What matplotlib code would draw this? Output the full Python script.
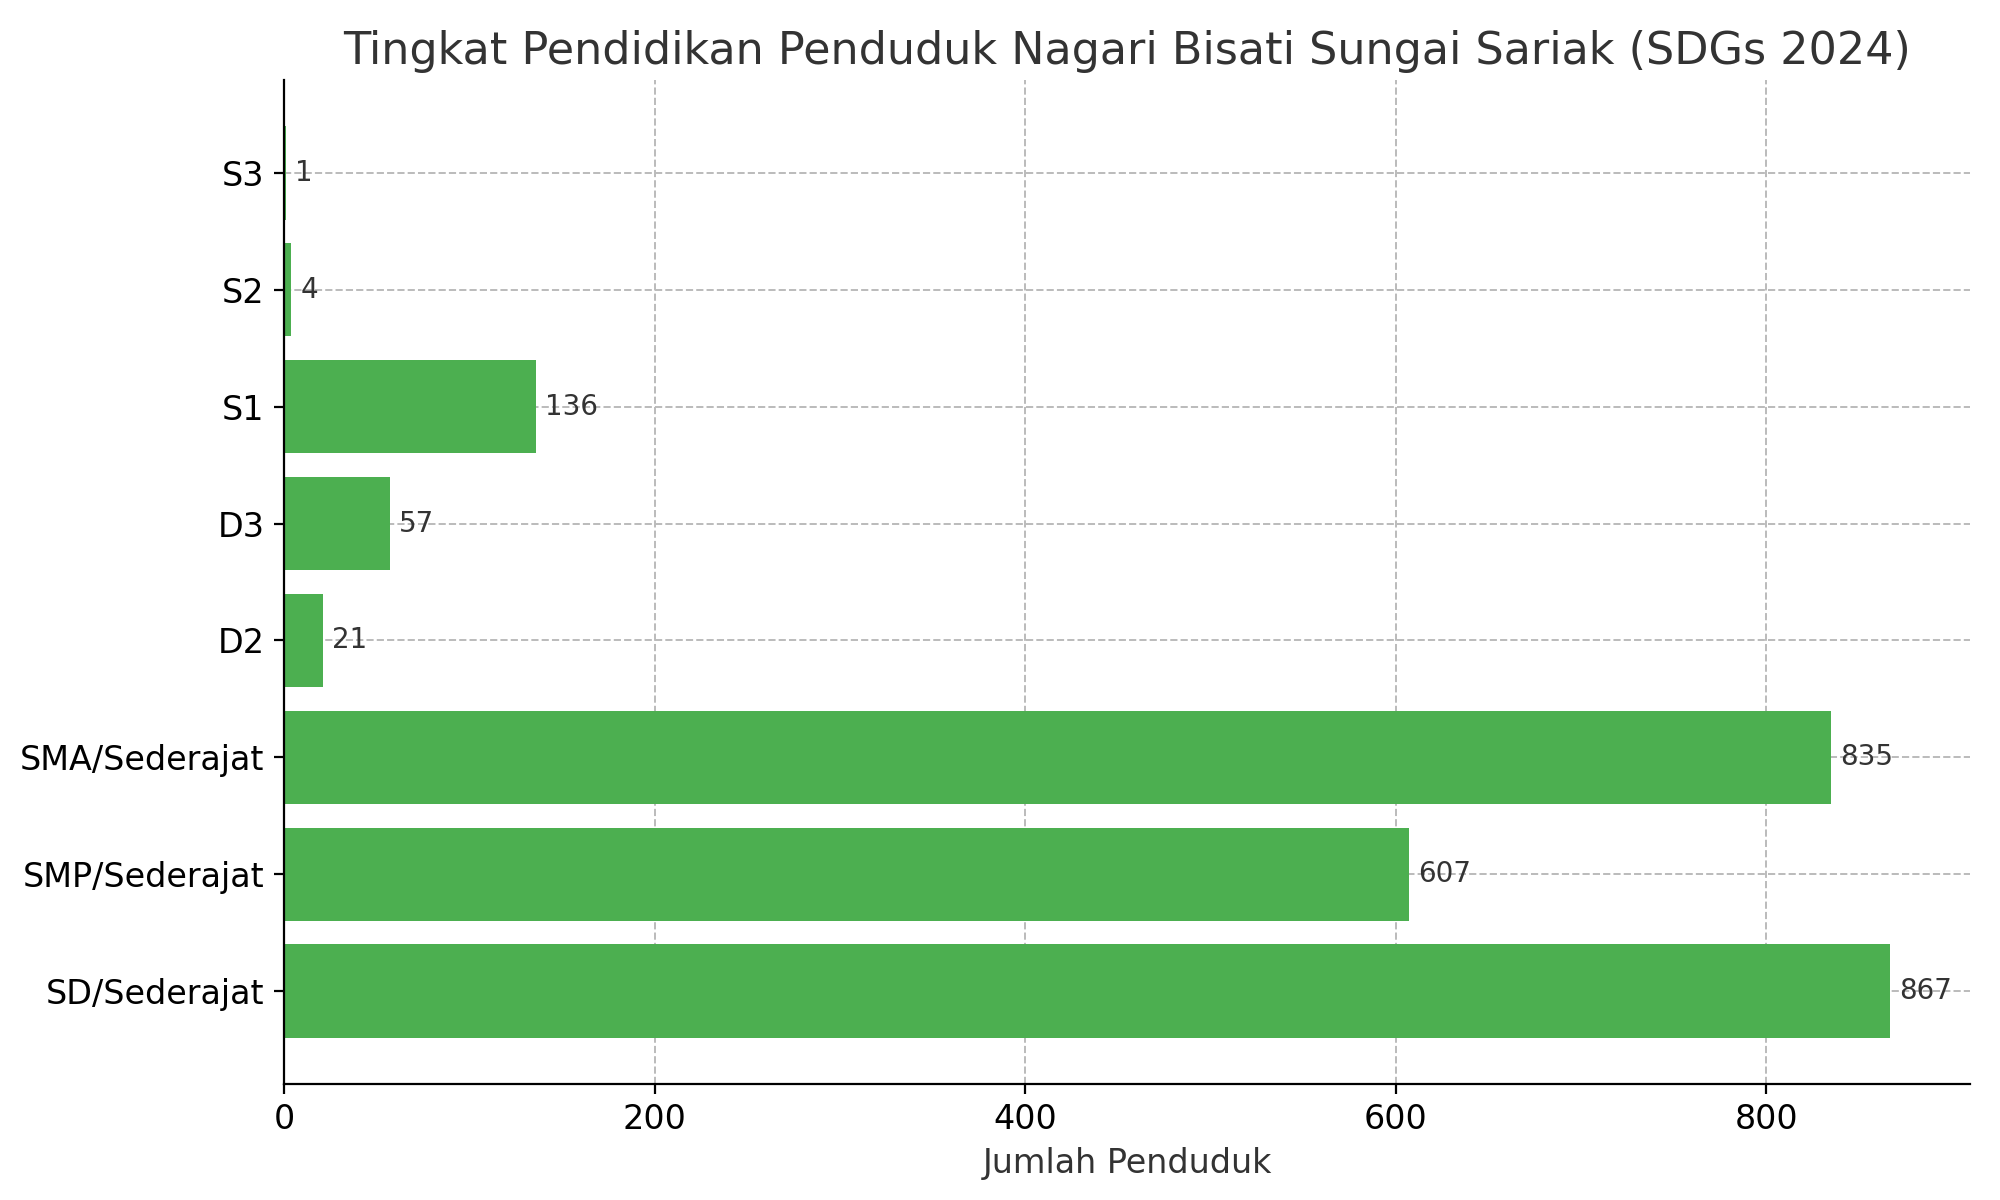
import matplotlib
matplotlib.use("Agg")
import matplotlib.pyplot as plt

categories = ["SD/Sederajat", "SMP/Sederajat", "SMA/Sederajat", "D2", "D3", "S1", "S2", "S3"]
values = [867, 607, 835, 21, 57, 136, 4, 1]

fig, ax = plt.subplots(figsize=(10, 6), dpi=200)
fig.subplots_adjust(left=0.142, right=0.985, top=0.933, bottom=0.097)
bars = ax.barh(categories, values, color="#4caf50", height=0.8, zorder=2)
for i, v in enumerate(values):
    ax.text(v + 5, i, str(v), va="center", ha="left", fontsize=10, color="#333333")
ax.set_xlim(0, 910)
ax.set_xticks([0, 200, 400, 600, 800])
ax.set_xlabel("Jumlah Penduduk", fontsize=12, color="#333333")
ax.set_title("Tingkat Pendidikan Penduduk Nagari Bisati Sungai Sariak (SDGs 2024)", fontsize=16, color="#333333")
ax.tick_params(labelsize=12)
ax.grid(True, linestyle="--", color="#bbbbbb", linewidth=0.7, zorder=0)
ax.set_axisbelow(True)
ax.spines["top"].set_visible(False)
ax.spines["right"].set_visible(False)
fig.savefig("out.png")
